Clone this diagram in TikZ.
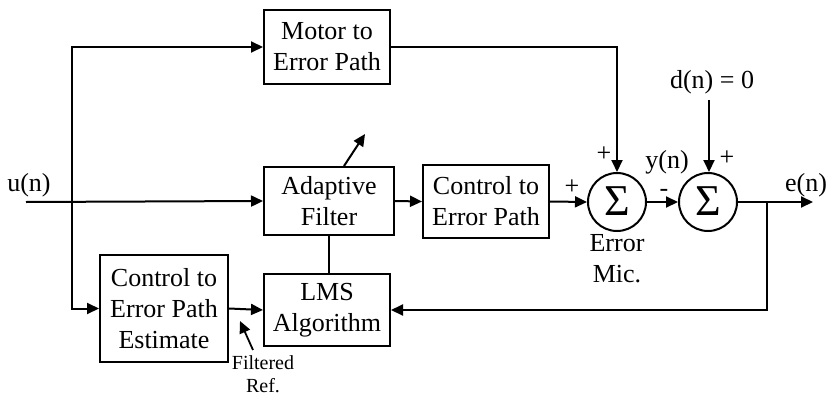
\documentclass[tikz,border=0pt]{standalone}
\usepackage{fontspec}
\setmainfont{Liberation Serif}
\usetikzlibrary{arrows.meta,positioning}
\begin{document}
\begin{tikzpicture}[x=1pt,y=-1pt,
  line width=2pt,
  arr/.style={-{Triangle[length=12pt,width=11pt]}},
  blockbox/.style={draw,rectangle,align=center,inner sep=0pt,
    font=\fontsize{26}{31}\selectfont},
  sumnode/.style={draw,circle,minimum size=58pt,inner sep=0pt,
    font=\fontsize{44}{44}\selectfont},
  lbl/.style={inner sep=0pt,font=\fontsize{26}{31}\selectfont},
  sign/.style={inner sep=0pt,font=\fontsize{26}{26}\selectfont},
  small/.style={inner sep=0pt,align=center,font=\fontsize{20}{23}\selectfont}]
\useasboundingbox (0,0) rectangle (834,396);

% blocks
\node[blockbox,minimum width=126pt,minimum height=74pt] (motor) at (327,47) {Motor to\\Error Path};
\node[blockbox,minimum width=130pt,minimum height=68pt] (adapt) at (329,201) {Adaptive\\Filter};
\node[blockbox,minimum width=126pt,minimum height=73pt] (ctrl) at (486,201.5) {Control to\\Error Path};
\node[blockbox,minimum width=126pt,minimum height=72pt] (lms) at (327,310) {LMS\\Algorithm};
\node[blockbox,minimum width=128pt,minimum height=107pt] (est) at (164,308.5) {Control to\\Error Path\\Estimate};

% summing junctions
\node[sumnode] (sum1) at (617,202) {\raisebox{1pt}{Σ}};
\node[sumnode] (sum2) at (708,202) {\raisebox{1pt}{Σ}};

% signal labels
\node[lbl] (un) at (29,185) {u(n)};
\node[lbl] (dn) at (712,82) {d(n) = 0};
\node[lbl] (yn) at (667,162) {y(n)};
\node[lbl] (en) at (806,185) {e(n)};
\node[lbl,align=center] (mic) at (617,259) {Error\\Mic.};
\node[small] (filt) at (263,374) {Filtered\\Ref.};

% signs
\node[sign] (p1) at (572,187) {+};
\node[sign] (p2) at (604,154) {+};
\node[sign] (p3) at (727,158) {+};
\node[sign] (m1) at (664,193) {-};

% helper points
\coordinate (uin) at (26,202);
\coordinate (split) at (72,202);
\coordinate (out) at (813,202);
\coordinate (fb) at (767,202);
\coordinate (tunea) at (344,166);
\coordinate (tuneb) at (365,134);
\coordinate (filta) at (253,350);
\coordinate (filtb) at (240,321);

% connectors
\draw[arr] (uin) -- (adapt.west);
\draw[arr] (split) |- (motor.west);
\draw[arr] (split) |- (est.west);
\draw[arr] (motor.east) -| (sum1.north);
\draw[arr] (dn.south) ++(-3,5) coordinate (dtop) -- (sum2.north -| dtop);
\draw[arr] (adapt.east) -- (ctrl.west);
\draw[arr] (ctrl.east) -- (sum1.west);
\draw[arr] (sum1.east) -- (sum2.west);
\draw[arr] (sum2.east) -- (out);
\draw[arr] (fb) |- (lms.east);
\draw[arr] (est.east) -- (lms.west);
\draw (adapt.south) -- (adapt.south |- lms.north);
\draw[arr] (tunea) -- (tuneb);
\draw[arr,line width=1.8pt] (filta) -- (filtb);
\end{tikzpicture}
\end{document}
